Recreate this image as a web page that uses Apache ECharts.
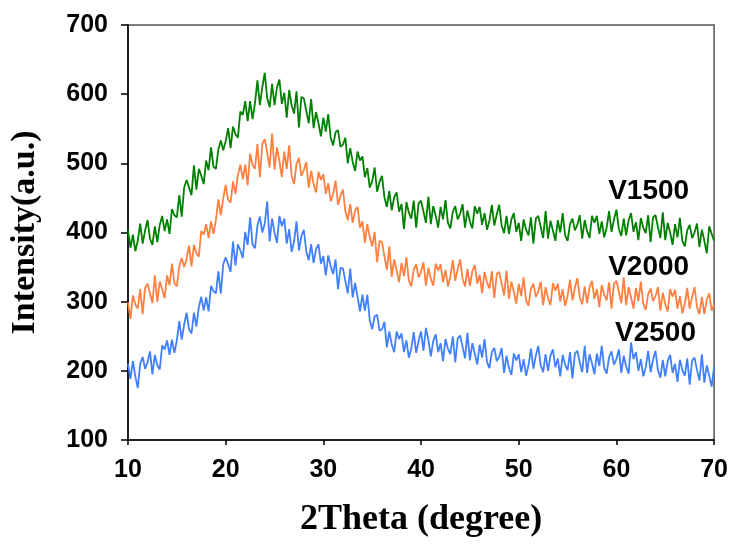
<!DOCTYPE html>
<html>
<head>
<meta charset="utf-8">
<script src="https://cdn.jsdelivr.net/npm/echarts@6/dist/echarts.min.js"></script>
<style>
html,body{margin:0;padding:0;background:#fff;}
#chart{width:731px;height:545px;}
</style>
</head>
<body>
<div id="chart"></div>
<script>
// 2θ sampling: starts at 10°, every 0.25°, up to 70°
const thetaStart = 10;
const thetaStep = 0.25;

const seriesNames = ['V1500', 'V2000', 'V2500'];

// V1500 (green), 4 points per degree (10° ... 70°)
const v1500 = [
 403,378,397,373, 388,413,384,403, 418,391,382,409, 386,411,424,402,
 419,398,434,425, 422,454,423,465, 476,465,454,497, 462,492,482,470,
 504,490,523,495, 492,520,533,519, 532,551,522,553, 542,537,575,570,
 590,561,590,564, 587,620,584,610, 631,594,581,615, 584,610,621,586,
 602,566,606,584, 572,604,552,596, 594,576,558,593, 551,574,558,539,
 566,546,571,537, 526,545,548,524, 527,537,500,522, 502,489,517,504,
 510,480,493,465, 474,494,459,473, 482,451,437,460, 432,451,458,430,
 441,405,444,429, 420,446,407,442, 446,430,414,452, 412,438,424,407,
 437,419,447,414, 406,430,438,419, 427,441,407,432, 416,406,438,427,
 437,411,428,404, 417,440,410,426, 440,410,399,424, 398,419,428,401,
 414,388,419,404, 396,422,384,420, 424,408,392,431, 391,417,403,388,
 418,400,428,396, 388,412,420,403, 411,425,391,418, 402,392,424,414,
 424,398,416,393, 407,431,401,419, 433,405,395,420, 396,418,428,401,
 415,389,421,407, 399,425,386,422, 425,408,392,429, 389,414,400,382,
 412,393,421,388, 380,403,411,392, 400,413,379,404, 388,370,409,398,
 388
];

// V2000 (orange)
const v2000 = [
 299,275,309,296, 290,318,282,320, 326,312,298,338, 300,329,318,305,
 338,324,355,327, 322,351,363,350, 362,381,351,382, 370,365,402,397,
 412,392,416,398, 418,448,425,449, 469,447,443,474, 456,483,498,477,
 498,468,514,498, 492,528,480,528, 535,515,494,543, 491,523,503,480,
 517,492,526,482, 470,499,508,482, 490,502,465,489, 470,458,488,476,
 484,456,471,445, 456,475,440,453, 462,431,418,441, 414,432,437,407,
 416,385,412,393, 380,401,357,388, 386,366,346,380, 336,361,345,328,
 356,337,364,331, 322,346,354,335, 343,357,323,349, 333,323,355,345,
 354,328,346,322, 336,360,330,347, 361,333,322,347, 323,344,353,326,
 339,312,343,328, 319,344,305,340, 343,326,309,345, 304,329,314,297,
 326,308,335,302, 294,318,326,307, 315,329,295,321, 305,295,327,316,
 326,300,318,294, 308,332,302,320, 334,306,296,322, 298,320,330,304,
 318,292,324,310, 302,328,290,326, 330,314,298,335, 295,321,306,290,
 320,301,329,297, 288,311,319,301, 308,321,287,313, 296,286,318,307,
 317,290,308,283, 297,320,290,307, 321,292,282,307, 282,303,312,287,
 296
];

// V2500 (blue)
const v2500 = [
 210,188,214,192, 175,210,220,203, 212,228,195,223, 208,202,237,231,
 244,223,245,226, 244,272,245,267, 284,260,254,284, 264,292,307,287,
 306,286,323,315, 312,344,312,354, 364,354,343,387, 352,383,374,363,
 401,382,422,383, 377,410,423,400, 413,445,387,420, 400,385,424,409,
 420,384,405,372, 387,416,374,395, 404,373,360,383, 356,376,383,355,
 366,338,367,351, 340,361,318,349, 348,330,312,348, 306,327,307,286,
 310,287,310,273, 260,279,281,258, 260,271,234,257, 238,227,257,246,
 254,227,244,219, 232,256,226,243, 257,229,262,245, 221,243,253,227,
 240,214,246,232, 224,250,212,247, 251,235,218,255, 215,240,225,209,
 238,219,246,213, 204,227,233,214, 220,233,197,222, 204,194,225,215,
 224,198,217,193, 208,232,203,222, 236,208,198,224, 200,222,231,205,
 218,192,223,209, 201,227,189,225, 229,212,198,236, 197,224,211,195,
 225,207,236,204, 196,220,228,209, 217,231,197,222, 206,196,241,217,
 227,200,217,192, 205,229,198,216, 229,201,190,216, 192,214,223,197,
 210,184,216,201, 193,218,180,215, 219,201,186,224, 183,208,193,177,
 206
];

// Curve labels: [2θ, intensity] anchors
const labelAnchors = [[63.3, 459], [63.3, 349], [64.0, 255]];

const colors = ['#008000', '#FF8040', '#4080FF'];
const allValues = [v1500, v2000, v2500];

function pairs(vals) {
  return vals.map((v, i) => [thetaStart + i * thetaStep, v]);
}

const chart = echarts.init(document.getElementById('chart'), null, {renderer: 'canvas'});

const series = allValues.map((vals, k) => ({
  name: seriesNames[k],
  type: 'line',
  data: pairs(vals),
  showSymbol: false,
  symbol: 'none',
  lineStyle: {color: colors[k], width: 1.8},
  itemStyle: {color: colors[k]},
  animation: false,
  z: 3 - k,
  markPoint: {
    symbol: 'circle',
    symbolSize: 1,
    itemStyle: {color: 'rgba(0,0,0,0)'},
    label: {
      show: true,
      position: 'inside',
      formatter: seriesNames[k],
      color: '#000',
      fontFamily: 'Liberation Sans, Arial, sans-serif',
      fontWeight: 'bold',
      fontSize: 28
    },
    data: [{coord: labelAnchors[k]}]
  }
}));

chart.setOption({
  backgroundColor: '#ffffff',
  animation: false,
  grid: {
    left: 128, right: 14, top: 25, bottom: 105,
    show: true, borderColor: '#555', borderWidth: 1.5,
    containLabel: false
  },
  xAxis: {
    type: 'value',
    min: 10, max: 70, interval: 10,
    name: '2Theta (degree)',
    nameLocation: 'middle',
    nameGap: 62,
    nameTextStyle: {
      fontFamily: 'Liberation Serif, Times New Roman, serif',
      fontWeight: 'bold', fontSize: 36, color: '#000'
    },
    axisLine: {show: true, lineStyle: {color: '#000', width: 1.5}},
    axisTick: {show: true, inside: false, length: 5, lineStyle: {color: '#000', width: 1.5}},
    splitLine: {show: false},
    axisLabel: {
      margin: 18,
      fontFamily: 'Liberation Sans, Arial, sans-serif',
      fontWeight: 'bold', fontSize: 25, color: '#000'
    }
  },
  yAxis: {
    type: 'value',
    min: 100, max: 700, interval: 100,
    name: 'Intensity(a.u.)',
    nameLocation: 'middle',
    nameGap: 86,
    nameTextStyle: {
      fontFamily: 'Liberation Serif, Times New Roman, serif',
      fontWeight: 'bold', fontSize: 34, color: '#000'
    },
    axisLine: {show: true, lineStyle: {color: '#000', width: 1.5}},
    axisTick: {show: true, inside: false, length: 7, lineStyle: {color: '#000', width: 1.5}},
    splitLine: {show: false},
    axisLabel: {
      margin: 20,
      fontFamily: 'Liberation Sans, Arial, sans-serif',
      fontWeight: 'bold', fontSize: 25, color: '#000'
    }
  },
  series: series
});
</script>
</body>
</html>
